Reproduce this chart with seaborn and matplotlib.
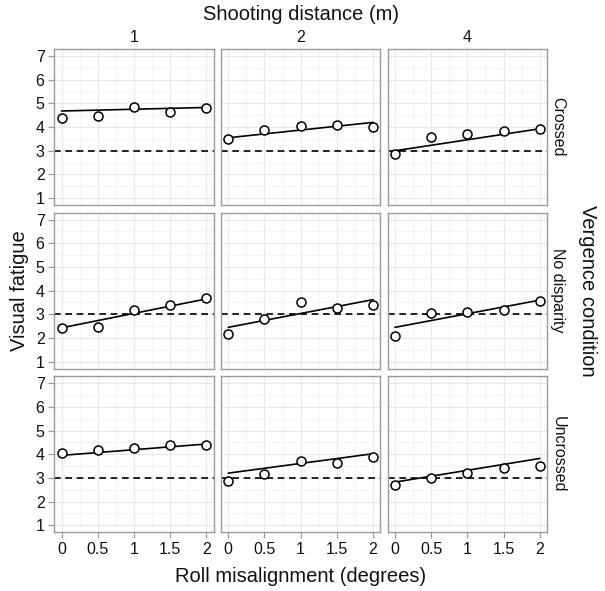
import numpy as np
import pandas as pd
import seaborn as sns
import matplotlib
matplotlib.use("Agg")
import matplotlib.pyplot as plt
from matplotlib.ticker import MultipleLocator

# ---- data ----
roll = [0, 0.5, 1, 1.5, 2]
distances = ["1", "2", "4"]
conditions = ["Crossed", "No disparity", "Uncrossed"]

crossed_1 = [4.40, 4.45, 4.85, 4.65, 4.80]
crossed_2 = [3.50, 3.88, 4.05, 4.10, 4.00]
crossed_4 = [2.87, 3.60, 3.72, 3.85, 3.93]
nodisp_1 = [2.43, 2.45, 3.20, 3.40, 3.70]
nodisp_2 = [2.18, 2.80, 3.50, 3.27, 3.38]
nodisp_4 = [2.10, 3.05, 3.10, 3.20, 3.57]
uncrossed_1 = [4.03, 4.18, 4.28, 4.37, 4.40]
uncrossed_2 = [2.87, 3.15, 3.70, 3.62, 3.87]
uncrossed_4 = [2.70, 3.00, 3.22, 3.40, 3.52]

# fitted model line: value at roll 0 and at roll 2
fit_start = {"Crossed": [4.68, 3.55, 3.00],
             "No disparity": [2.43, 2.45, 2.45],
             "Uncrossed": [3.95, 3.20, 2.82]}
fit_end = {"Crossed": [4.83, 4.20, 3.93],
           "No disparity": [3.65, 3.62, 3.60],
           "Uncrossed": [4.43, 4.02, 3.82]}

reference_level = 3
y_ticks = [1, 2, 3, 4, 5, 6, 7]
x_ticks = [0, 0.5, 1, 1.5, 2]
x_tick_labels = ["0", "0.5", "1", "1.5", "2"]

obs = {"Crossed": [crossed_1, crossed_2, crossed_4],
       "No disparity": [nodisp_1, nodisp_2, nodisp_4],
       "Uncrossed": [uncrossed_1, uncrossed_2, uncrossed_4]}

rows = []
for c in conditions:
    for d, vals in zip(distances, obs[c]):
        for r, v in zip(roll, vals):
            rows.append({"condition": c, "distance": d, "roll": r, "fatigue": v})
df = pd.DataFrame(rows)

frows = []
for c in conditions:
    for i, d in enumerate(distances):
        frows.append({"condition": c, "distance": d, "roll": roll[0], "fit": fit_start[c][i]})
        frows.append({"condition": c, "distance": d, "roll": roll[-1], "fit": fit_end[c][i]})
fdf = pd.DataFrame(frows)

# ---- plotting ----
sns.set_theme(style="white")
plt.rcParams["font.family"] = ["Liberation Sans", "DejaVu Sans"]

fig, axes = plt.subplots(3, 3, figsize=(6.05, 5.91), dpi=100, sharex=True, sharey=True)
fig.subplots_adjust(left=54.3/605, right=547/605, top=1-49/591, bottom=1-532.3/591,
                    wspace=0.047, hspace=0.047)

grey = "#9a9a9a"
txt = "#111111"
for i, c in enumerate(conditions):
    for j, d in enumerate(distances):
        ax = axes[i, j]
        sub = df[(df.condition == c) & (df.distance == d)]
        fsub = fdf[(fdf.condition == c) & (fdf.distance == d)]
        ax.axhline(reference_level, color="black", lw=1.2, ls=(0, (4, 2.8)), zorder=2)
        sns.lineplot(data=fsub, x="roll", y="fit", ax=ax, color="black", lw=1.2, zorder=3)
        sns.scatterplot(data=sub, x="roll", y="fatigue", ax=ax, marker="o", s=42,
                        facecolor="white", edgecolor="black", linewidth=1.1, zorder=4)
        ax.set_xlim(-0.1, 2.1)
        ax.set_ylim(0.7, 7.3)
        ax.set_xticks(x_ticks)
        ax.set_xticklabels(x_tick_labels)
        ax.set_yticks(y_ticks)
        ax.xaxis.set_minor_locator(MultipleLocator(0.25))
        ax.yaxis.set_minor_locator(MultipleLocator(0.5))
        ax.grid(True, which="major", color="#e8e8e8", lw=0.8)
        ax.grid(True, which="minor", color="#f3f3f3", lw=0.6)
        ax.set_axisbelow(True)
        for s in ax.spines.values():
            s.set_color(grey)
            s.set_linewidth(1.0)
            s.set_visible(True)
        ax.tick_params(axis="both", which="major", length=4, width=0.9, color=grey,
                       labelsize=11.5, labelcolor=txt, pad=3,
                       left=(j == 0), bottom=(i == 2))
        ax.tick_params(which="minor", length=0)
        ax.set_xlabel("")
        ax.set_ylabel("")

# column strip labels
for j, d in enumerate(distances):
    pos = axes[0, j].get_position()
    fig.text((pos.x0 + pos.x1) / 2, 1 - 37/591, d, ha="center", va="center", fontsize=11.5, color=txt)
# row strip labels
for i, c in enumerate(conditions):
    pos = axes[i, 2].get_position()
    fig.text(558/605, (pos.y0 + pos.y1) / 2, c, ha="center", va="center", rotation=-90,
             fontsize=11.5, color=txt)

fig.text(0.5 * (54.3 + 547) / 605, 1 - 15/591, "Shooting distance (m)", ha="center", va="center",
         fontsize=14.5, color=txt)
fig.text(0.5 * (54.3 + 547) / 605, 1 - 577/591, "Roll misalignment (degrees)", ha="center",
         va="center", fontsize=14.5, color=txt)
fig.text(20/605, 1 - 290.6/591, "Visual fatigue", ha="center", va="center", rotation=90,
         fontsize=14.5, color=txt)
fig.text(587/605, 1 - 290.6/591, "Vergence condition", ha="center", va="center", rotation=-90,
         fontsize=14.5, color=txt)

fig.savefig("out.png", dpi=100, facecolor="white")
